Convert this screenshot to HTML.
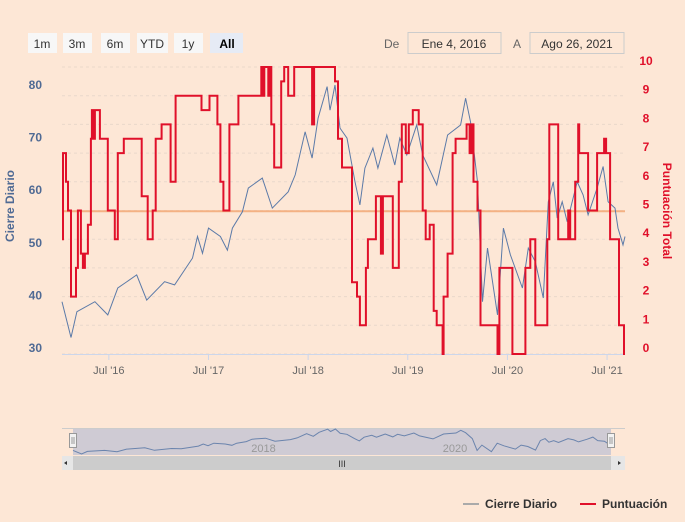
<!DOCTYPE html>
<html><head><meta charset="utf-8">
<style>
body{margin:0;background:#fde7d6;font-family:"Liberation Sans",sans-serif;}
#c{position:absolute;left:0;top:0;width:685px;height:522px;}
</style></head>
<body>
<svg id="c" width="685" height="522" xmlns="http://www.w3.org/2000/svg">
<rect width="685" height="522" fill="#fde7d6"/>
<g font-size="12" fill="#333">
<g><rect x="28" y="33" width="29" height="20" fill="#f7f7f7"/><text x="42" y="48" text-anchor="middle">1m</text></g>
<g><rect x="63" y="33" width="29" height="20" fill="#f7f7f7"/><text x="77" y="48" text-anchor="middle">3m</text></g>
<g><rect x="101" y="33" width="29" height="20" fill="#f7f7f7"/><text x="115" y="48" text-anchor="middle">6m</text></g>
<g><rect x="137" y="33" width="31" height="20" fill="#f7f7f7"/><text x="152" y="48" text-anchor="middle">YTD</text></g>
<g><rect x="174" y="33" width="29" height="20" fill="#f7f7f7"/><text x="188" y="48" text-anchor="middle">1y</text></g>
<g><rect x="210" y="33" width="33" height="20" fill="#e6ebf5"/><text x="227" y="48" text-anchor="middle" font-weight="bold" fill="#000">All</text></g>
<text x="384" y="48" fill="#666">De</text>
<g><rect x="408" y="32.5" width="93" height="21" fill="none" stroke="#ccc"/><text x="454" y="48" text-anchor="middle">Ene 4, 2016</text></g>
<text x="513" y="48" fill="#666">A</text>
<g><rect x="530" y="32.5" width="94" height="21" fill="none" stroke="#ccc"/><text x="577" y="48" text-anchor="middle">Ago 26, 2021</text></g>
</g>
<g id="grid"></g>
<g id="axes"></g>
<g id="series"></g>
<g id="nav"></g>
<text transform="translate(14,206) rotate(-90)" text-anchor="middle" font-size="12" font-weight="bold" fill="#4f6a94">Cierre Diario</text>
<text transform="translate(663,211) rotate(90)" text-anchor="middle" font-size="12" font-weight="bold" fill="#e0102a">Puntuación Total</text>
<g font-size="12" font-weight="bold" fill="#333">
<g><line x1="463" y1="504" x2="479" y2="504" stroke="#aaa" stroke-width="2"/><text x="485" y="508">Cierre Diario</text></g>
<g><line x1="580" y1="504" x2="596" y2="504" stroke="#e0102a" stroke-width="2"/><text x="602" y="508">Puntuación</text></g>
</g>
</svg>
<script>
const priceDates=[2016.01,2016.10,2016.16,2016.34,2016.47,2016.57,2016.76,2016.86,2017.04,2017.14,2017.32,2017.37,2017.42,2017.48,2017.60,2017.67,2017.72,2017.82,2017.88,2018.02,2018.12,2018.28,2018.35,2018.45,2018.52,2018.58,2018.67,2018.70,2018.75,2018.80,2018.87,2018.95,2019.00,2019.05,2019.13,2019.18,2019.27,2019.35,2019.40,2019.47,2019.57,2019.63,2019.77,2019.88,2020.01,2020.06,2020.11,2020.18,2020.23,2020.28,2020.38,2020.44,2020.51,2020.63,2020.69,2020.76,2020.84,2020.89,2020.94,2020.98,2021.03,2021.08,2021.18,2021.24,2021.29,2021.38,2021.44,2021.49,2021.56,2021.59,2021.64,2021.66];
const priceValues=[38.8,32,36.9,38.8,36.3,41.4,43.9,39.1,42.6,42,47.1,51.2,48,52.8,51.2,48.6,52.8,55.9,60.4,62.3,56.6,59.7,62.9,71.1,66.1,73.7,79.7,75.2,80,71.8,69.9,61.6,57.2,64.2,68,64.2,70.5,64.8,69.9,66.7,72.4,66.7,61,70.5,72.4,77.5,73,61.6,38.8,49,36.3,52.8,47.7,41.4,49,46.4,39.5,57.8,61.6,54.7,57.8,54,61.6,59.1,55.3,60.4,64.5,57.8,56.6,52.8,49.6,51.2];
const scoreDates=[2016.01,2016.02,2016.05,2016.07,2016.10,2016.15,2016.17,2016.20,2016.22,2016.24,2016.27,2016.30,2016.31,2016.33,2016.34,2016.39,2016.47,2016.54,2016.57,2016.63,2016.81,2016.87,2016.92,2016.95,2017.01,2017.10,2017.15,2017.41,2017.49,2017.57,2017.60,2017.63,2017.69,2017.78,2018.01,2018.03,2018.04,2018.08,2018.09,2018.11,2018.14,2018.21,2018.24,2018.28,2018.34,2018.52,2018.54,2018.75,2018.78,2018.82,2018.92,2018.97,2019.00,2019.06,2019.08,2019.16,2019.21,2019.23,2019.33,2019.39,2019.42,2019.46,2019.49,2019.53,2019.59,2019.63,2019.66,2019.70,2019.74,2019.77,2019.83,2019.84,2019.88,2019.93,2019.96,2020.07,2020.10,2020.12,2020.14,2020.18,2020.21,2020.38,2020.40,2020.53,2020.66,2020.71,2020.76,2020.88,2020.90,2020.99,2021.09,2021.11,2021.16,2021.19,2021.20,2021.29,2021.38,2021.45,2021.47,2021.51,2021.60,2021.65,2021.66];
const scoreValues=[4,7,6,5,2,3,5,3.5,3,3.5,4.5,7.5,8.5,7.5,8.5,7.5,5,4,7,7.5,5.5,4,5,7.5,8,6,9,8.5,9,8,6,5,8,9,10,9,10,9,10,8,6.5,9.5,10,9,10,8,10,9.5,7.5,6.5,2.5,2,1,3,4,5.5,3.5,5.5,3,6,8,7,8,8.5,8,5,4,4.5,1.5,1,0,2,3.5,7,7.5,8,7,8,6,5,1,0,3,0,3,4,1,4,8,4,5,4,6,8,7,5,7,7.5,7,4,1,0,0];
const leftTicks=[30,40,50,60,70,80];
const rightTicks=[0,1,2,3,4,5,6,7,8,9,10];
const xTickDates=[2016.48,2017.48,2018.48,2019.48,2020.48,2021.48];
const xTickLabels=["Jul '16","Jul '17","Jul '18","Jul '19","Jul '20","Jul '21"];
const plotLineValue=56;
const navLabelDates=[2018.0,2020.0];
const navLabels=["2018","2020"];

const X0=62,X1=625,T0=2016.01,T1=2021.66;
const xs=t=>X0+(t-T0)/(T1-T0)*(X1-X0);
const yl=v=>348-(v-30)*(263/50);
const yr=v=>354-v*28.7;
const NS='http://www.w3.org/2000/svg';
function mk(tag,attrs,parent){const e=document.createElementNS(NS,tag);for(const k in attrs)e.setAttribute(k,attrs[k]);parent.appendChild(e);return e;}
const grid=document.getElementById('grid'),axes=document.getElementById('axes'),ser=document.getElementById('series'),nav=document.getElementById('nav');
rightTicks.forEach(v=>{const l=mk('line',{x1:X0,x2:X1,y1:yr(v),y2:yr(v),stroke:'#ead8cb','stroke-dasharray':'3,3'},grid);


const t=mk('text',{x:X1+21,y:yr(v)-2,'text-anchor':'middle','font-size':'12','font-weight':'bold',fill:'#e0102a'},axes);t.textContent=v;

});
leftTicks.forEach(v=>{const t=mk('text',{x:42,y:yl(v)+4,'text-anchor':'end','font-size':'12','font-weight':'bold',fill:'#4f6a94'},axes);t.textContent=v;

});
const ax=mk('line',{x1:X0,x2:X1,y1:354.5,y2:354.5,stroke:'#ccd6eb'},axes);


xTickLabels.forEach((s,i)=>{const x=xs(xTickDates[i]);const tk=mk('line',{x1:x,x2:x,y1:354,y2:360,stroke:'#ccd6eb'},axes);


const t=mk('text',{x:x,y:374,'text-anchor':'middle','font-size':'11',fill:'#666'},axes);t.textContent=s;

});
const pl=mk('line',{x1:X0,x2:X1,y1:yl(plotLineValue),y2:yl(plotLineValue),stroke:'#f4b183','stroke-width':2},ser);


let d='';priceDates.forEach((t,i)=>{d+=(i?'L':'M')+xs(t).toFixed(1)+','+yl(priceValues[i]).toFixed(1);});
const pp=mk('path',{d:d,fill:'none',stroke:'#5b7aa8','stroke-width':1},ser);


let s='';scoreDates.forEach((t,i)=>{const x=xs(t).toFixed(1),y=yr(scoreValues[i]).toFixed(1);s+=i?('H'+x+'V'+y):('M'+x+','+y);});
const sp=mk('path',{d:s,fill:'none',stroke:'#e0102a','stroke-width':2},ser);


// navigator
const NY0=428,NY1=455,NX0=62,NX1=625;
const nxs=t=>NX0+11+(t-T0)/(T1-T0)*(NX1-NX0-22);
const nyl=v=>NY1-(v-30)/52*(NY1-NY0);
const bg=mk('rect',{x:73,y:NY0,width:538,height:NY1-NY0,fill:'#cfcbd4'},nav);


mk('line',{x1:NX0,x2:NX1,y1:NY0+.5,y2:NY0+.5,stroke:'#ccc'},nav);
navLabels.forEach((s,i)=>{const t=mk('text',{x:nxs(navLabelDates[i]),y:452,'text-anchor':'middle','font-size':'11',fill:'#999'},nav);t.textContent=s;

});
let nd='';priceDates.forEach((t,i)=>{nd+=(i?'L':'M')+nxs(t).toFixed(1)+','+nyl(priceValues[i]).toFixed(1);});
const np=mk('path',{d:nd,fill:'none',stroke:'#6b84ad','stroke-width':1},nav);


const sb=mk('rect',{x:NX0,y:456,width:NX1-NX0,height:14,fill:'#e6e6e6'},nav);


const th=mk('rect',{x:73,y:456,width:538,height:14,fill:'#cccccc'},nav);


const gt=mk('text',{x:342,y:467,'text-anchor':'middle','font-size':'9',fill:'#333'},nav);gt.textContent='III';


[[66,'M64,463L67,461L67,465Z'],[619,'M621,463L618,461L618,465Z']].forEach(a=>{const p=mk('path',{d:a[1],fill:'#333'},nav);

});
[73,611].forEach(x=>{const h=mk('rect',{x:x-3.5,y:433.5,width:7,height:14,fill:'#f2f2f2',stroke:'#999'},nav);


mk('line',{x1:x-1,x2:x-1,y1:437,y2:444,stroke:'#999'},nav);mk('line',{x1:x+1,x2:x+1,y1:437,y2:444,stroke:'#999'},nav);});
</script>
</body></html>
